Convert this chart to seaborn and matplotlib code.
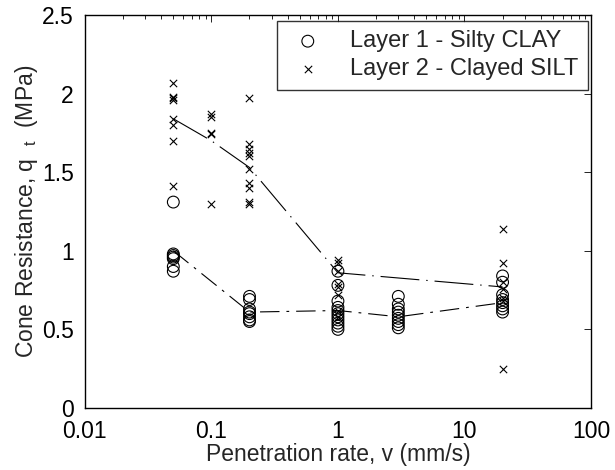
import numpy as np
import pandas as pd
import matplotlib
matplotlib.use("Agg")
import matplotlib.pyplot as plt
import seaborn as sns
from matplotlib.ticker import LogLocator, FixedLocator, FixedFormatter

# Layer 1 - Silty CLAY (rate in mm/s, qt in MPa)
layer1_rate = [0.05] * 7 + [0.2] * 8 + [1] * 11 + [3] * 9 + [20] * 8
layer1_qt = [1.31, 0.98, 0.97, 0.96, 0.95, 0.90, 0.87,
             0.71, 0.69, 0.63, 0.61, 0.60, 0.58, 0.56, 0.55,
             0.87, 0.78, 0.68, 0.64, 0.62, 0.60, 0.58, 0.56, 0.54, 0.52, 0.50,
             0.71, 0.66, 0.63, 0.61, 0.59, 0.57, 0.55, 0.53, 0.51,
             0.84, 0.80, 0.72, 0.69, 0.67, 0.65, 0.63, 0.61]

# Layer 2 - Clayed SILT
layer2_rate = [0.05] * 8 + [0.1] * 5 + [0.2] * 10 + [1] * 8 + [20] * 7
layer2_qt = [2.07, 1.98, 1.97, 1.96, 1.84, 1.80, 1.70, 1.41,
             1.87, 1.85, 1.75, 1.74, 1.30,
             1.97, 1.68, 1.65, 1.62, 1.60, 1.52, 1.43, 1.40, 1.31, 1.30,
             0.94, 0.92, 0.87, 0.79, 0.77, 0.72, 0.62, 0.58,
             1.14, 0.92, 0.80, 0.76, 0.70, 0.68, 0.25]

# mean trend lines
layer1_mean_rate = [0.05, 0.2, 1, 3, 20]
layer1_mean_qt = [1.00, 0.61, 0.62, 0.58, 0.67]
layer2_mean_rate = [0.05, 0.1, 0.2, 1, 20]
layer2_mean_qt = [1.84, 1.70, 1.53, 0.86, 0.77]

xticks = [0.01, 0.1, 1, 10, 100]
xtick_labels = ["0.01", "0.1", "1", "10", "100"]
yticks = [0, 0.5, 1, 1.5, 2, 2.5]
ytick_labels = ["0", "0.5", "1", "1.5", "2", "2.5"]

sns.set_style("white")
plt.rcParams["font.family"] = ["Liberation Sans", "DejaVu Sans"]
plt.rcParams["mathtext.fontset"] = "custom"
plt.rcParams["mathtext.rm"] = "Liberation Sans"
plt.rcParams["mathtext.it"] = "Liberation Sans"
plt.rcParams["lines.scale_dashes"] = False

df1 = pd.DataFrame({"rate": layer1_rate, "qt": layer1_qt})
df2 = pd.DataFrame({"rate": layer2_rate, "qt": layer2_qt})
m1 = pd.DataFrame({"rate": layer1_mean_rate, "qt": layer1_mean_qt})
m2 = pd.DataFrame({"rate": layer2_mean_rate, "qt": layer2_mean_qt})

fig = plt.figure(figsize=(6.15, 4.70), dpi=100)
ax = fig.add_axes([0.138, 0.132, 0.823, 0.836])

sns.scatterplot(data=df1, x="rate", y="qt", ax=ax, marker="o", s=72,
                facecolor="none", edgecolor="black", linewidth=0.8,
                label="Layer 1 - Silty CLAY")
sns.scatterplot(data=df2, x="rate", y="qt", ax=ax, marker="x", s=28,
                color="black", linewidth=0.8, label="Layer 2 - Clayed SILT")

sns.lineplot(data=m1, x="rate", y="qt", ax=ax, color="black", lw=0.8,
             legend=False).lines[-1].set_dashes((14, 5, 2, 5))
sns.lineplot(data=m2, x="rate", y="qt", ax=ax, color="black", lw=0.8,
             legend=False).lines[-1].set_dashes((28, 5, 1, 5))

ax.set_xscale("log")
ax.set_xlim(0.01, 100)
ax.set_ylim(0, 2.5)
ax.xaxis.set_major_locator(FixedLocator(xticks))
ax.xaxis.set_major_formatter(FixedFormatter(xtick_labels))
ax.xaxis.set_minor_locator(LogLocator(base=10, subs=np.arange(2, 10)))
ax.set_yticks(yticks)
ax.set_yticklabels(ytick_labels)

ax.tick_params(which="both", direction="in", top=True, right=True,
               labelsize=16.5, colors="black", width=0.6)
ax.tick_params(which="major", length=5)
ax.tick_params(which="minor", length=3)
ax.tick_params(axis="x", which="major", pad=9)
ax.tick_params(axis="y", which="major", pad=8)
for s in ax.spines.values():
    s.set_color("black")
    s.set_linewidth(1.0)

ax.set_xlabel("Penetration rate, v (mm/s)", fontsize=16.5, labelpad=0)
ax.set_ylabel(r"Cone Resistance, q  $_{\mathrm{t}}$  (MPa)", fontsize=16.5, labelpad=1)

leg = ax.legend(loc="upper right", bbox_to_anchor=(0.994, 0.985), borderaxespad=0,
                fontsize=17, frameon=True, fancybox=False, edgecolor="black",
                handletextpad=0.9, borderpad=0.4, labelspacing=0.25,
                handlelength=1.8)
leg.get_frame().set_linewidth(1.0)

fig.savefig("out.png", dpi=100)
